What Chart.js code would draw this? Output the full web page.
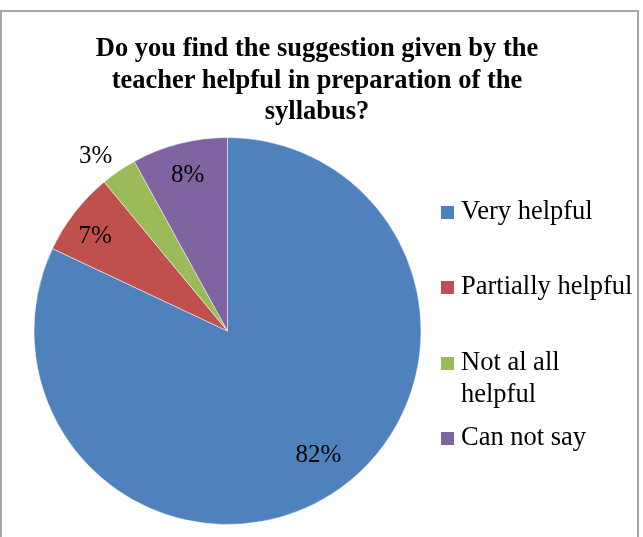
<!DOCTYPE html>
<html>
<head>
<meta charset="utf-8">
<script src="https://cdn.jsdelivr.net/npm/chart.js@4.4.1/dist/chart.umd.min.js"></script>
<style>
  html, body { margin: 0; padding: 0; background: #fff; }
  #wrap { position: relative; width: 643px; height: 537px; overflow: hidden; }
  #frame { position: absolute; left: 0; top: 10px; width: 635px; height: 600px; border: 2px solid #a6a6a6; }
  #pieChart { position: absolute; left: 0; top: 0; }
  #title {
    position: absolute; left: 0; top: 32px; width: 634px;
    text-align: center; font: bold 26.5px "Liberation Serif", serif; line-height: 31.5px; color: #000;
  }
  .legend-item { position: absolute; left: 441px; width: 200px; font: 26.5px "Liberation Serif", serif; line-height: 32px; color: #000; }
  .legend-item span.box { position: absolute; left: 0; width: 13px; height: 13px; }
  .legend-item span.txt { position: absolute; left: 20px; width: 175px; }
</style>
</head>
<body>
<div id="wrap">
  <canvas id="pieChart" width="643" height="537"></canvas>
  <div id="frame"></div>
  <div id="title">Do you find the suggestion given by the<br>teacher helpful in preparation of the<br>syllabus?</div>
  <div id="legend"></div>
</div>
<script>
// Data
const categories = ['Very helpful', 'Partially helpful', 'Not al all helpful', 'Can not say'];
const shares = [82, 7, 3, 8];
const sliceColors = ['#4f81bd', '#c0504d', '#9bbb59', '#8064a2'];

// where each percentage sits: fraction of radius, and a small turn off the slice middle
const labelRadius = [0.797, 0.84, 1.13, 0.83];
const labelTurn = [-0.065, -0.04, -0.05, 0];

// percentage labels on / beside the slices
const sliceLabels = {
    id: 'sliceLabels',
    afterDatasetsDraw(chart) {
        const ctx = chart.ctx;
        const meta = chart.getDatasetMeta(0);
        ctx.save();
        ctx.font = '25px "Liberation Serif"';
        ctx.fillStyle = '#000';
        ctx.textAlign = 'center';
        ctx.textBaseline = 'middle';
        meta.data.forEach(function(arc, i) {
            const p = arc.getProps(['x', 'y', 'startAngle', 'endAngle', 'outerRadius']);
            const mid = (p.startAngle + p.endAngle) / 2 + labelTurn[i];
            const r = p.outerRadius * labelRadius[i];
            ctx.fillText(shares[i] + '%', p.x + Math.cos(mid) * r, p.y + Math.sin(mid) * r);
        });
        ctx.restore();
    }
};

const ctx = document.getElementById('pieChart').getContext('2d');
new Chart(ctx, {
    type: 'pie',
    data: {
        labels: categories,
        datasets: [{
            data: shares,
            backgroundColor: sliceColors,
            borderColor: 'rgba(255,255,255,0.5)',
            borderWidth: 1
        }]
    },
    options: {
        responsive: false,
        animation: false,
        layout: { padding: { left: 33, top: 137, right: 221, bottom: 12 } },
        plugins: {
            legend: { display: false },
            tooltip: { enabled: false }
        }
    },
    plugins: [sliceLabels]
});

// legend on the right
const legend = document.getElementById('legend');
categories.forEach(function(name, i) {
    const item = document.createElement('div');
    item.className = 'legend-item';
    item.style.top = (194 + i * 75.3) + 'px';
    const box = document.createElement('span');
    box.className = 'box';
    box.style.background = sliceColors[i];
    box.style.top = '12px';
    const txt = document.createElement('span');
    txt.className = 'txt';
    txt.textContent = name;
    item.appendChild(box);
    item.appendChild(txt);
    legend.appendChild(item);
});
</script>
</body>
</html>
